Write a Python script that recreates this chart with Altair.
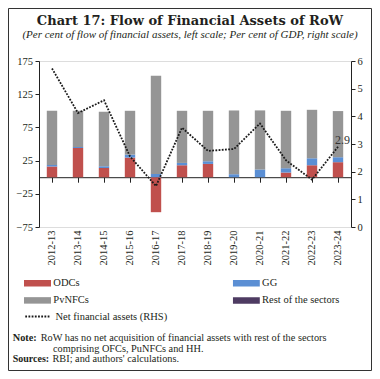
import altair as alt
import pandas as pd

# ---------------- data ----------------
years = ["2012-13", "2013-14", "2014-15", "2015-16", "2016-17", "2017-18",
         "2018-19", "2019-20", "2020-21", "2021-22", "2022-23", "2023-24"]
odcs = [16, 44, 14, 29.5, -52.7, 18, 20, 0, 0, 7, 18, 22.6]
gg = [2.5, 1.5, 2.5, 4.5, 5, 3.5, 4, 4.5, 11.6, 6.5, 10.5, 7.5]
pvnfcs = [81.5, 54.5, 82, 66, 147.7, 78.5, 76, 96, 89, 86.5, 73, 69.5]
rest = [0, 0, 0, 0, 0, 0, 0, 0, 0, 0, 0, 0]
net_fa = [5.73, 4.12, 4.58, 2.55, 1.48, 3.59, 2.75, 2.82, 3.74, 2.41, 1.71, 2.9]

series = ["ODCs", "GG", "PvNFCs", "Rest of the sectors"]
colors = ["#C0504D", "#5B8FD4", "#959595", "#4E3B62"]
line_name = "Net financial assets (RHS)"
left_ticks = [-75, -25, 25, 75, 125, 175]
right_ticks = [0, 1, 2, 3, 4, 5, 6]

title_text = "Chart 17: Flow of Financial Assets of RoW"
subtitle_text = "(Per cent of flow of financial assets, left scale; Per cent of GDP, right scale)"
note_label = "Note:"
note_line1 = "RoW has no net acquisition of financial assets with rest of the sectors"
note_line2 = "comprising OFCs, PuNFCs and HH."
src_label = "Sources:"
src_text = "RBI; and authors' calculations."

# ---------------- tables ----------------
rows = []
for i, y in enumerate(years):
    for k, (name, vals) in enumerate(zip(series, [odcs, gg, pvnfcs, rest])):
        rows.append({"year": y, "series": name, "value": vals[i], "order": k})
bar_df = pd.DataFrame(rows)
line_df = pd.DataFrame({"year": years, "net": net_fa, "label": [line_name] * len(years)})
last_df = pd.DataFrame({"year": [years[-1]], "net": [net_fa[-1]], "lbl": [f"{net_fa[-1]:.1f}"]})

W, H = 312, 166
SERIF = "Liberation Serif"
TXT = "#231F20"

xscale = alt.Scale(domain=years, paddingInner=0.6, paddingOuter=0.3)

bars = alt.Chart(bar_df).mark_bar().encode(
    x=alt.X("year:N", sort=years, scale=xscale,
            axis=alt.Axis(orient="bottom", title=None, labelAngle=-90, ticks=False,
                          domain=False, labelPadding=3, labelFontSize=10.5,
                          labelFont=SERIF, labelColor=TXT)),
    y=alt.Y("value:Q", stack="zero",
            scale=alt.Scale(domain=[-75, 175], nice=False, zero=False),
            axis=alt.Axis(orient="left", values=left_ticks, title=None, grid=False,
                          tickSize=4, labelPadding=2.5, labelFontSize=10.5,
                          labelFont=SERIF, labelColor=TXT, domainColor="#222",
                          tickColor="#222")),
    color=alt.Color("series:N", scale=alt.Scale(domain=series, range=colors),
                    legend=alt.Legend(title=None, orient="none", legendX=-15, legendY=218.8,
                                      direction="horizontal", columns=2,
                                      columnPadding=143.8, rowPadding=6.1,
                                      symbolType="M-1,-0.24H1V0.24H-1Z", symbolSize=729,
                                      symbolStrokeWidth=0, clipHeight=7, padding=0,
                                      labelFont=SERIF, labelFontSize=10.5, labelOffset=2.3,
                                      labelColor=TXT)),
    order=alt.Order("order:Q"),
)

line = alt.Chart(line_df).mark_line(color="#1a1a1a", strokeWidth=1.8).encode(
    x=alt.X("year:N", sort=years, scale=xscale, axis=None),
    y=alt.Y("net:Q", scale=alt.Scale(domain=[0, 6], nice=False),
            axis=alt.Axis(orient="right", values=right_ticks, title=None, grid=False,
                          tickSize=4, labelPadding=2, labelFontSize=10.5,
                          labelFont=SERIF, labelColor=TXT, domainColor="#222",
                          tickColor="#222")),
    strokeDash=alt.StrokeDash("label:N",
                              scale=alt.Scale(domain=[line_name], range=[[1.8, 1.4]]),
                              legend=alt.Legend(title=None, orient="none", legendX=-15,
                                                legendY=252, symbolType="stroke",
                                                symbolSize=600, symbolStrokeWidth=2,
                                                symbolStrokeColor="#1a1a1a", clipHeight=7,
                                                padding=0, labelFont=SERIF, labelFontSize=10.5,
                                                labelOffset=4.5, labelColor=TXT)),
)

last_lbl = alt.Chart(last_df).mark_text(dx=4.5, dy=-7, fontSize=12, font=SERIF,
                                         color="#333").encode(
    x=alt.X("year:N", sort=years, scale=xscale, axis=None),
    y=alt.Y("net:Q", scale=alt.Scale(domain=[0, 6], nice=False), axis=None),
    text="lbl:N",
)

zero_axis = alt.Chart(pd.DataFrame({"year": years})).mark_point(opacity=0).encode(
    x=alt.X("year:N", sort=years,
            scale=alt.Scale(domain=years, paddingInner=0, paddingOuter=0),
            axis=alt.Axis(orient="bottom", offset=-H * 0.3, bandPosition=0, labels=False,
                          ticks=True, tickSize=5, domain=True, title=None,
                          domainColor="#222", tickColor="#222")),
)


def txt(s, x, y, size=10.3, weight="normal", style="normal", align="left",
        baseline="middle", font=SERIF):
    return alt.Chart(pd.DataFrame({"t": [s]})).mark_text(
        align=align, baseline=baseline, fontSize=size, fontWeight=weight,
        fontStyle=style, font=font, color=TXT).encode(
        x=alt.value(x), y=alt.value(y), text="t:N")


title = txt(title_text, 151, -36, size=13, weight="bold", align="center",
            baseline="alphabetic", font="DejaVu Serif")
subtitle = txt(subtitle_text, 151, -23.5, size=11, style="italic", align="center",
               baseline="alphabetic")
n1 = txt(note_label, -26.3, 277.2, size=10.3, weight="bold")
n2 = txt(note_line1, 1.7, 277.2)
n3 = txt(note_line2, 14, 287.7)
s1 = txt(src_label, -26.3, 298.2, size=10, weight="bold")
s2 = txt(src_text, 13.5, 298.2)

frame = alt.Chart(pd.DataFrame({"a": [0]})).mark_rect(
    fillOpacity=0, stroke="#333", strokeWidth=1).encode(
    x=alt.value(-30.5), x2=alt.value(332.5), y=alt.value(-52.5), y2=alt.value(309.5))

chart = alt.layer(
    bars, line, last_lbl, zero_axis, title, subtitle, n1, n2, n3, s1, s2, frame
).resolve_scale(x="independent", y="independent").properties(
    width=W, height=H,
    autosize=alt.AutoSizeParams(type="none"),
    padding={"left": 31, "top": 53, "right": 21, "bottom": 144},
).configure_view(stroke=None).configure(background="white")

chart.save("out.html", embed_options={"renderer": "svg", "actions": False})
